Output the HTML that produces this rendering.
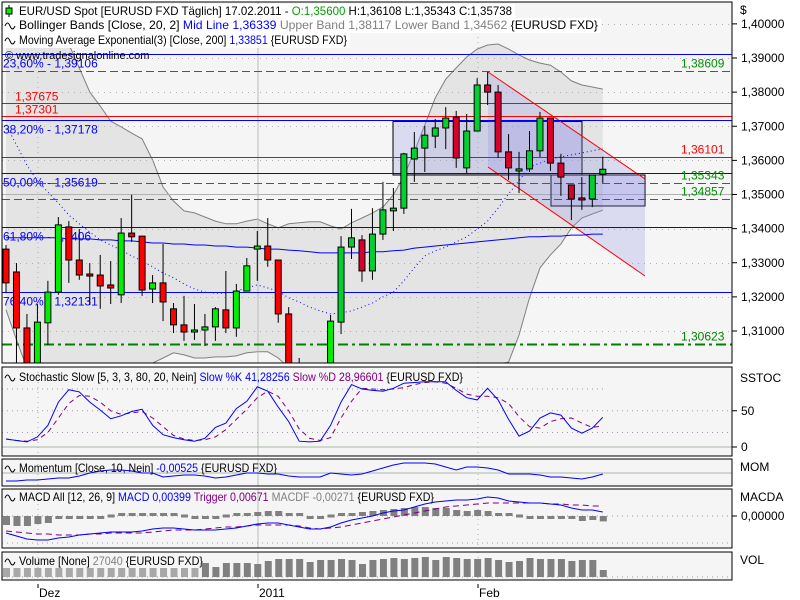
<!DOCTYPE html>
<html><head><meta charset="utf-8">
<style>
html,body{margin:0;padding:0;background:#fff;}
svg{display:block;font-family:"Liberation Sans",sans-serif;font-size:12px;}
</style></head>
<body>
<svg id="chart" width="800" height="600" viewBox="0 0 800 600" xmlns="http://www.w3.org/2000/svg">
<defs><clipPath id="mainClip"><rect x="2" y="2" width="730" height="361"/></clipPath></defs>
<rect x="0" y="0" width="800" height="600" fill="#ffffff"/>
<g id="main"></g>
<g id="lower"></g>
<g id="axes"></g>
</svg>
<script>
// ---- Price data (58 daily candles) ----
const opens=[1.3340,1.3273,1.3109,1.2971,1.3124,1.3214,1.3405,1.3308,1.3267,1.3264,1.3235,1.3206,1.3387,1.3378,1.3223,1.3241,1.3165,1.3118,1.3097,1.3103,1.3112,1.3162,1.3109,1.3217,1.3340,1.3349,1.3308,1.3150,1.2986,1.2913,1.2957,1.2986,1.3126,1.3346,1.3367,1.3276,1.3384,1.3452,1.3460,1.3604,1.3636,1.3671,1.3695,1.3727,1.3578,1.3686,1.3821,1.3800,1.3625,1.3569,1.3575,1.3628,1.3724,1.3592,1.3528,1.3490,1.3487,1.3560];
const highs=[1.3352,1.3299,1.3150,1.3179,1.3247,1.3434,1.3422,1.3399,1.3299,1.3323,1.3305,1.3431,1.3499,1.3378,1.3264,1.3355,1.3182,1.3203,1.3179,1.3150,1.3170,1.3276,1.3238,1.3314,1.3393,1.3431,1.3308,1.3170,1.3021,1.2971,1.3000,1.3147,1.3378,1.3458,1.3381,1.3460,1.3537,1.3519,1.3622,1.3683,1.3701,1.3721,1.3756,1.3745,1.3736,1.3841,1.3859,1.3821,1.3677,1.3625,1.3686,1.3742,1.3724,1.3619,1.3528,1.3551,1.3557,1.3611];
const lows=[1.3211,1.2986,1.2942,1.2942,1.3059,1.3206,1.3241,1.3250,1.3176,1.3165,1.3179,1.3182,1.3361,1.3203,1.3182,1.3129,1.3094,1.3071,1.3074,1.3056,1.3071,1.3094,1.3083,1.3217,1.3247,1.3288,1.3124,1.2957,1.2898,1.2883,1.2927,1.2971,1.3091,1.3311,1.3244,1.3250,1.3367,1.3393,1.3443,1.3537,1.3566,1.3636,1.3633,1.3578,1.3563,1.3686,1.3762,1.3607,1.3543,1.3504,1.3566,1.3610,1.3569,1.3496,1.3425,1.3455,1.3463,1.3534];
const closes=[1.3241,1.3109,1.2971,1.3126,1.3214,1.3411,1.3308,1.3264,1.3261,1.3232,1.3226,1.3387,1.3376,1.3220,1.3241,1.3185,1.3118,1.3097,1.3103,1.3112,1.3165,1.3109,1.3217,1.3291,1.3349,1.3308,1.3150,1.2986,1.2927,1.2957,1.2986,1.3129,1.3346,1.3373,1.3276,1.3384,1.3455,1.3460,1.3619,1.3636,1.3674,1.3695,1.3724,1.3607,1.3686,1.3821,1.3800,1.3625,1.3578,1.3575,1.3628,1.3724,1.3592,1.3551,1.3487,1.3484,1.3557,1.3574];
const bbUpper=[1.4005,1.4003,1.4000,1.3997,1.3979,1.3959,1.3941,1.3871,1.3800,1.3759,1.3715,1.3698,1.3680,1.3663,1.3601,1.3522,1.3481,1.3452,1.3446,1.3434,1.3422,1.3414,1.3414,1.3422,1.3428,1.3414,1.3402,1.3414,1.3417,1.3420,1.3420,1.3408,1.3399,1.3417,1.3431,1.3446,1.3463,1.3499,1.3554,1.3625,1.3704,1.3783,1.3838,1.3871,1.3903,1.3926,1.3938,1.3941,1.3926,1.3909,1.3894,1.3885,1.3879,1.3859,1.3833,1.3821,1.3815,1.3809];
const bbLower=[1.3162,1.3074,1.2992,1.2971,1.2957,1.2951,1.2951,1.2957,1.2962,1.2971,1.2980,1.2986,1.2992,1.2998,1.3006,1.3021,1.3036,1.3030,1.3021,1.3021,1.3024,1.3024,1.3027,1.3036,1.3039,1.3039,1.3021,1.2992,1.2957,1.2927,1.2904,1.2883,1.2869,1.2863,1.2863,1.2869,1.2877,1.2889,1.2898,1.2910,1.2921,1.2933,1.2945,1.2957,1.2968,1.2980,1.2992,1.3003,1.3009,1.3088,1.3197,1.3285,1.3323,1.3355,1.3402,1.3431,1.3443,1.3454];
const bbMid=[1.3704,1.3645,1.3586,1.3540,1.3507,1.3475,1.3440,1.3414,1.3390,1.3367,1.3352,1.3337,1.3320,1.3305,1.3288,1.3270,1.3256,1.3238,1.3223,1.3214,1.3211,1.3211,1.3217,1.3226,1.3235,1.3226,1.3217,1.3197,1.3185,1.3170,1.3159,1.3150,1.3153,1.3159,1.3170,1.3182,1.3200,1.3214,1.3247,1.3285,1.3320,1.3335,1.3346,1.3361,1.3376,1.3399,1.3422,1.3460,1.3502,1.3540,1.3581,1.3592,1.3604,1.3610,1.3616,1.3622,1.3628,1.3634];
const ema200=[1.3373,1.3373,1.3373,1.3373,1.3373,1.3373,1.3370,1.3370,1.3370,1.3367,1.3367,1.3364,1.3364,1.3361,1.3358,1.3358,1.3355,1.3355,1.3352,1.3352,1.3349,1.3349,1.3346,1.3346,1.3343,1.3340,1.3340,1.3337,1.3335,1.3332,1.3329,1.3329,1.3329,1.3329,1.3329,1.3332,1.3332,1.3335,1.3337,1.3343,1.3346,1.3349,1.3352,1.3355,1.3358,1.3361,1.3364,1.3367,1.3370,1.3373,1.3376,1.3376,1.3378,1.3378,1.3381,1.3381,1.3384,1.3384];
// horizontal levels
const levelValues=[1.39106,1.38609,1.37675,1.37301,1.37178,1.36101,1.35619,1.35343,1.34857,1.3406,1.32131,1.30623];
const levelColors=["#0000ff","#009000","#ff0000","#ff0000","#0000ff","#ff0000","#0000ff","#009000","#009000","#0000ff","#0000ff","#008000"];
const levelStyles=["solid","dash","solid","solid","solid","solid","solid","dash","dash","solid","solid","dashdot"];
const levelLeftLabels=["23,60% - 1,39106","","1,37675","1,37301","38,20% - 1,37178","","50,00% - 1,35619","","","61,80% - 1,3406","76,40% - 1,32131",""];
const levelRightLabels=["","1,38609","","","","1,36101","","1,35343","1,34857","","","1,30623"];
const priceTicks=[1.40,1.39,1.38,1.37,1.36,1.35,1.34,1.33,1.32,1.31];
const priceTickLabels=["1,40000","1,39000","1,38000","1,37000","1,36000","1,35000","1,34000","1,33000","1,32000","1,31000"];
// indicators
const stochK=[11,9,7,14,30,62,79,76,62,51,39,43,49,52,30,17,13,10,8,12,27,33,53,63,83,77,55,35,8,7,8,30,62,86,80,78,77,81,88,89,90,90,90,78,68,65,81,65,38,15,22,40,47,44,26,19,26,41];
const stochD=[11,9,8,10,20,40,60,71,70,62,50,45,47,49,40,28,16,11,9,10,14,24,38,52,68,77,70,50,25,12,9,13,40,63,81,80,79,80,82,86,89,90,88,81,73,70,70,68,60,42,28,26,35,39,40,33,27,29];
const momentum=[-0.040,-0.040,-0.035,-0.035,-0.030,-0.025,-0.025,-0.015,0,0.010,0.015,0.015,0.010,0,0,-0.020,-0.015,-0.010,-0.010,-0.015,-0.025,-0.020,-0.010,0,0,-0.005,-0.005,-0.015,-0.020,-0.020,-0.020,0,-0.005,-0.010,-0.005,0.010,0.025,0.040,0.050,0.050,0.050,0.045,0.030,0.015,0.030,0.030,0.025,0.015,-0.005,-0.005,-0.005,-0.010,-0.020,-0.020,-0.025,-0.030,-0.020,-0.005];
const macdLine=[-0.0136,-0.016,-0.0184,-0.0192,-0.0192,-0.0176,-0.0168,-0.0152,-0.0144,-0.0136,-0.0128,-0.0128,-0.0128,-0.012,-0.0104,-0.0096,-0.0096,-0.0104,-0.0112,-0.0112,-0.0112,-0.0104,-0.0096,-0.008,-0.0064,-0.0056,-0.0056,-0.0072,-0.0088,-0.0104,-0.0104,-0.0088,-0.0056,-0.0032,-0.0016,0,0.0024,0.004,0.0048,0.0072,0.0096,0.0112,0.012,0.0128,0.0128,0.0136,0.0152,0.0144,0.012,0.0112,0.0104,0.0104,0.0096,0.0088,0.0064,0.0048,0.0048,0.0032];
const macdTrigger=[-0.012,-0.0128,-0.0136,-0.0144,-0.0144,-0.0152,-0.0152,-0.0152,-0.0144,-0.0144,-0.0136,-0.0136,-0.0136,-0.0136,-0.0128,-0.012,-0.0112,-0.0112,-0.0112,-0.0104,-0.0096,-0.0088,-0.0088,-0.008,-0.0072,-0.0072,-0.0072,-0.0072,-0.008,-0.0096,-0.0104,-0.0096,-0.0088,-0.0072,-0.0056,-0.004,-0.0024,-0.0008,0.0008,0.0024,0.004,0.0056,0.0072,0.008,0.0088,0.0096,0.0104,0.0104,0.0104,0.0104,0.0104,0.0104,0.0096,0.0096,0.0088,0.0088,0.008,0.008];
const macdHist=[-0.0045,-0.005,-0.005,-0.004,-0.0035,-0.0015,-0.001,-0.0005,-0.0005,-0.0005,0,0.0005,0.001,0.0015,0.0015,0.001,0.0005,0,-0.0005,-0.0005,-0.0005,0,0.0005,0.001,0.002,0.0025,0.0025,0.0015,0.0005,-0.0005,-0.0005,0,0.001,0.0015,0.002,0.0025,0.003,0.0035,0.004,0.0045,0.0045,0.004,0.004,0.003,0.0025,0.003,0.0025,0.0015,0.0005,0,-0.0005,-0.0005,-0.0005,-0.001,-0.0015,-0.0025,-0.002,-0.0027];
const volumes=[34740,34740,34740,34740,34740,34740,34740,34740,34740,34740,34740,34740,34740,34740,34740,34740,34740,34740,34740,54040,38600,54040,54040,54040,50180,61760,69480,69480,69480,57900,65620,65620,69480,65620,50180,65620,69480,73340,69480,73340,77200,65620,77200,73340,69480,69480,73340,65620,57900,61760,73340,69480,69480,69480,61760,65620,65620,27040];
const dateLabels=["Dez","2011","Feb"];

const NS="http://www.w3.org/2000/svg";
const N=closes.length;
function xOf(i){return 6+i*10.47;}
function yP(p){return 58+(1.39-p)*3412.5;}
function yS(v){return 447-v*0.725;}
function yM(v){return 473-v/0.005;}
function yMacd(v){return 516-v/0.0008;}
function hHist(v){return v/0.0005;}
function yV(v){return 577-v/3860;}
function mk(parent,tag,attrs){const e=document.createElementNS(NS,tag);for(const k in attrs)e.setAttribute(k,attrs[k]);parent.appendChild(e);return e;}
function pts(arr,fy){return arr.map((v,i)=>xOf(i).toFixed(1)+","+fy(v).toFixed(1)).join(" ");}

const main=document.getElementById('main');
const lower=document.getElementById('lower');
const axes=document.getElementById('axes');

let bg=mk(main,'rect',{x:2,y:2,width:730,height:361,fill:'#f5f5f5',stroke:'none'});


const mg=mk(main,'g',{'clip-path':'url(#mainClip)'});

let up=bbUpper.map((v,i)=>xOf(i).toFixed(1)+","+yP(v).toFixed(1));
let lo=bbLower.map((v,i)=>xOf(i).toFixed(1)+","+yP(v).toFixed(1)).reverse();
let band=mk(mg,'polygon',{points:up.concat(lo).join(" "),fill:'#e4e4e4',stroke:'none'});


let ub=mk(mg,'polyline',{points:pts(bbUpper,yP),fill:'none',stroke:'#808080','stroke-width':1});


let lb=mk(mg,'polyline',{points:pts(bbLower,yP),fill:'none',stroke:'#808080','stroke-width':1});



priceTicks.forEach((p,k)=>{
  let a={x1:2,x2:732,y1:Math.round(yP(p))+0.5,y2:Math.round(yP(p))+0.5,stroke:'#b0b0b0'};
  if(p!==1.35)a['stroke-dasharray']='1,5';
  let g=mk(mg,'line',a);
  
  
});
function vlines(parent,y1,y2){
  [38,478].forEach(x=>{let l=mk(parent,'line',{x1:x,x2:x,y1:y1,y2:y2,stroke:'#b0b0b0','stroke-dasharray':'1,4'});
    
    });
  let s=mk(parent,'line',{x1:258,x2:258,y1:y1,y2:y2,stroke:'#b8c0b8'});
  
  
}
vlines(mg,2,363);

let box1=mk(mg,'rect',{x:393,y:121.5,width:189,height:53.5,fill:'rgba(140,140,230,0.25)',stroke:'#000'});


let box2=mk(mg,'rect',{x:551,y:175,width:94,height:31,fill:'rgba(140,140,230,0.25)',stroke:'#000'});


let ch=mk(mg,'polygon',{points:'488,72 645,179 645,276 488,167',fill:'rgba(140,140,230,0.25)',stroke:'none'});


let c1=mk(mg,'line',{x1:488,y1:72,x2:645,y2:179,stroke:'#ff0000'});


let c2=mk(mg,'line',{x1:488,y1:167,x2:645,y2:276,stroke:'#ff0000'});



levelValues.forEach((v,k)=>{
  let y=Math.round(yP(v))+0.5;
  let a={x1:2,x2:732,y1:y,y2:y,stroke:levelColors[k],'stroke-width':levelStyles[k]=='dashdot'?2:1};
  if(levelStyles[k]=='dash')a['stroke-dasharray']='8,4';
  if(levelStyles[k]=='dashdot')a['stroke-dasharray']='10,4,3,4';
  let l=mk(mg,'line',a);
  
  
  if(levelLeftLabels[k]){
    let x=levelLeftLabels[k].indexOf('%')>0?3:15;
    let t=mk(mg,'text',{x:x,y:y+(levelColors[k]=='#ff0000'?-3:13),fill:levelColors[k]});
    t.textContent=levelLeftLabels[k];
    
    
  }
  if(levelRightLabels[k]){
    let t=mk(mg,'text',{x:681,y:y-4,fill:levelColors[k]});
    t.textContent=levelRightLabels[k];
    
    
  }
});

let em=mk(mg,'polyline',{points:pts(ema200,yP),fill:'none',stroke:'#0000ff','stroke-width':1});


let md=mk(mg,'polyline',{points:pts(bbMid,yP),fill:'none',stroke:'#0000ff','stroke-width':1,'stroke-dasharray':'1,3'});



for(let i=0;i<N;i++){
  const x=xOf(i);const g=mk(mg,'g',{});
  
  
  mk(g,'line',{x1:x,x2:x,y1:yP(highs[i]),y2:yP(lows[i]),stroke:'#000'});
  const top=Math.min(yP(opens[i]),yP(closes[i])),bot=Math.max(yP(opens[i]),yP(closes[i]));
  const green=closes[i]>opens[i];
  mk(g,'rect',{x:x-3,y:top,width:6,height:Math.max(bot-top,1),fill:green?(i>31?'#00d030':'#00ee00'):(i>31?'#d8002c':'#ff0000'),stroke:'#000'});
}

function header(y,w,parts,len,icon){
  const g=mk(main,'g',{});
  
  
  mk(g,'rect',{x:3,y:y-11,width:w,height:15,fill:'#ffffff'});
  if(icon=='candle'){mk(g,'line',{x1:9,x2:9,y1:y-10,y2:y+2,stroke:'#000'});mk(g,'rect',{x:6,y:y-7,width:6,height:6,fill:'#00ee00',stroke:'#000'});}
  else{mk(g,'path',{d:'M5 '+(y-3)+' q2.5 -6 5 0 t5 0',fill:'none',stroke:'#000'});}
  const t=mk(g,'text',{x:19,y:y,textLength:len,lengthAdjust:'spacingAndGlyphs'});
  parts.forEach(p=>{const s=mk(t,'tspan',{fill:p[1]});s.textContent=p[0];});
  return g;
}
header(15,512,[["EUR/USD Spot [EURUSD FXD  Täglich] 17.02.2011 - ","#000"],["O:1,35600","#00a000"],[" H:1,36108 L:1,35343 C:1,35738","#000"]],493,'candle');
header(29,598,[["Bollinger Bands [Close, 20, 2] ","#000"],["Mid Line 1,36339","#0000ff"],[" Upper Band 1,38117 Lower Band 1,34562","#808080"],[" {EURUSD FXD}","#000"]],579);
header(44,347,[["Moving Average Exponential(3) [Close, 200] ","#000"],["1,33851","#0000ff"],[" {EURUSD FXD}","#000"]],328);
let wm=mk(main,'text',{x:5,y:59,'font-size':11,fill:'#000'});wm.textContent='© www.tradesignalonline.com';


let mb=mk(main,'rect',{x:2,y:2,width:730,height:361,fill:'none',stroke:'#000'});



function panel(name,y1,y2){
  const g=mk(lower,'g',{});
  
  
  mk(g,'rect',{x:2,y:y1,width:730,height:y2-y1,fill:'#f5f5f5'});
  vlines(g,y1,y2);
  return g;
}
function hline(g,y,dotted,x2){const l=mk(g,'line',{x1:2,x2:x2||732,y1:y,y2:y,stroke:dotted?'#a0a0a0':'#a8b8a8'});if(dotted)l.setAttribute('stroke-dasharray','1,4');return l;}
function border(g,y1,y2){mk(g,'rect',{x:2,y:y1,width:730,height:y2-y1,fill:'none',stroke:'#000'});}
function subHeader(g,y,parts,len){
  mk(g,'path',{d:'M5 '+(y-3)+' q2.5 -6 5 0 t5 0',fill:'none',stroke:'#000'});
  const t=mk(g,'text',{x:19,y:y,textLength:len,lengthAdjust:'spacingAndGlyphs'});
  
  
  parts.forEach(p=>{const s=mk(t,'tspan',{fill:p[1]});s.textContent=p[0];});
}

const sg=panel('stochastic-panel',367,456);
hline(sg,yS(80),true,603);hline(sg,yS(50),true);hline(sg,yS(20),true);hline(sg,yS(0),false);
let sd=mk(sg,'polyline',{points:pts(stochD,yS),fill:'none',stroke:'#800080','stroke-dasharray':'5,4'});


let sk=mk(sg,'polyline',{points:pts(stochK,yS),fill:'none',stroke:'#0000ff'});


subHeader(sg,381,[["Stochastic Slow [5, 3, 3, 80, 20, Nein] ","#000"],["Slow %K 41,28256","#0000ff"],[" Slow %D 28,96601","#800080"],[" {EURUSD FXD}","#000"]],444);
border(sg,367,456);

const mgp=panel('momentum-panel',459,486);
hline(mgp,yM(0),true);hline(mgp,yM(0),false);
let ml=mk(mgp,'polyline',{points:pts(momentum,yM),fill:'none',stroke:'#0000ff'});


subHeader(mgp,472,[["Momentum [Close, 10, Nein] ","#000"],["-0,00525","#0000ff"],[" {EURUSD FXD}","#000"]],258);
border(mgp,459,486);

const cg=panel('macd-panel',489,548);
hline(cg,yMacd(0),true);hline(cg,543,true);
macdHist.forEach((v,i)=>{
  let h=hHist(v);let hh=Math.max(Math.abs(h),3);
  let y=h>=0?yMacd(0)-hh:yMacd(0);
  if(Math.abs(h)<1)y=yMacd(0)-1.5;
  let r=mk(cg,'rect',{x:xOf(i)-3,y:y,width:7,height:hh,fill:'#808080'});
  
  
});
let tl=mk(cg,'polyline',{points:pts(macdTrigger,yMacd),fill:'none',stroke:'#800080','stroke-dasharray':'6,4'});


let mcl=mk(cg,'polyline',{points:pts(macdLine,yMacd),fill:'none',stroke:'#0000ff'});


subHeader(cg,501,[["MACD All [12, 26, 9] ","#000"],["MACD 0,00399","#0000ff"],[" Trigger 0,00671","#800080"],[" MACDF -0,00271","#808080"],[" {EURUSD FXD}","#000"]],415);
border(cg,489,548);

const vg=panel('volume-panel',552,580);
hline(vg,577,true);
volumes.forEach((v,i)=>{
  let r=mk(vg,'rect',{x:xOf(i)-3,y:yV(v),width:7,height:577-yV(v),fill:i<19?'#a8a8a8':'#808080'});
  
  
});
subHeader(vg,565,[["Volume [None] ","#000"],["27040","#808080"],[" {EURUSD FXD}","#000"]],184);
border(vg,552,580);

function atext(x,y,s,name){const t=mk(axes,'text',{x:x,y:y,fill:'#000'});t.textContent=s;
  
  return t;}
atext(740,14,'$','currency-label');
priceTicks.forEach((p,k)=>{
  const y=yP(p);
  mk(axes,'line',{x1:732,x2:737,y1:y,y2:y,stroke:'#000'});
  atext(741,y+4,priceTickLabels[k],'price-tick-label');
});
atext(740,382,'SSTOC','stochastic-axis-title');
mk(axes,'line',{x1:732,x2:737,y1:yS(50),y2:yS(50),stroke:'#000'});atext(741,yS(50)+4,'50','stochastic-tick-label');
mk(axes,'line',{x1:732,x2:737,y1:yS(0),y2:yS(0),stroke:'#000'});atext(741,yS(0)+4,'0','stochastic-tick-label');
atext(740,471,'MOM','momentum-axis-title');
atext(740,501,'MACDA','macd-axis-title');
mk(axes,'line',{x1:732,x2:737,y1:516,y2:516,stroke:'#000'});atext(741,520,'0,00000','macd-tick-label');
atext(740,564,'VOL','volume-axis-title');
dateLabels.forEach((s,k)=>{
  const x=[38,258,478][k];
  mk(axes,'line',{x1:x,x2:x,y1:584,y2:588,stroke:'#000'});
  atext(x+1,597,s,'date-label');
});
</script>
</body></html>
